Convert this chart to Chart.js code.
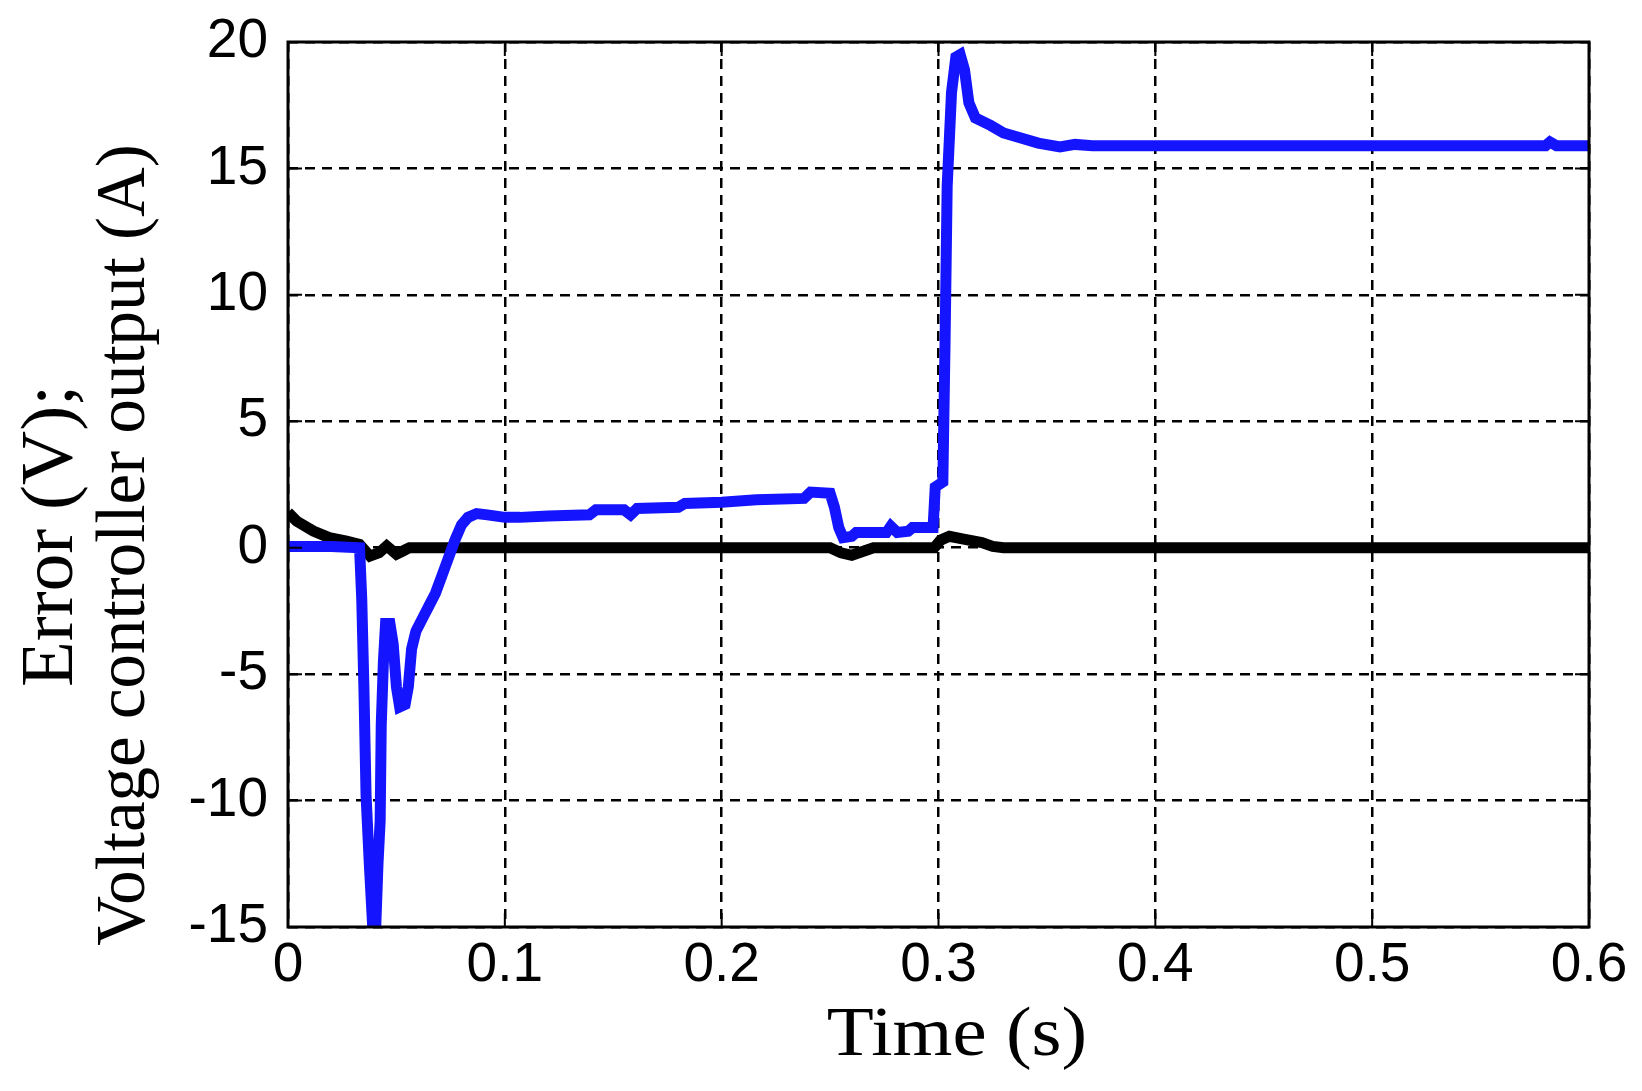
<!DOCTYPE html>
<html>
<head>
<meta charset="utf-8">
<script src="https://cdn.jsdelivr.net/npm/chart.js@4.4.1/dist/chart.umd.min.js"></script>
<style>
    html, body { margin: 0; padding: 0; background: #fff; }
    #wrap { width: 1642px; height: 1091px; position: relative; }
</style>
</head>
<body>
<div id="wrap"><canvas id="errChart"></canvas></div>
<script>
// values
const blueTime = [0, 0.02, 0.033, 0.034, 0.035, 0.036, 0.0375, 0.039, 0.0405, 0.0415, 0.0425, 0.043, 0.044, 0.045,
    0.047, 0.0485, 0.05, 0.0515, 0.054, 0.0555, 0.057, 0.059, 0.062, 0.065, 0.068, 0.071, 0.074, 0.077, 0.08,
    0.083, 0.087, 0.092, 0.1, 0.107, 0.12, 0.139, 0.142, 0.155, 0.158, 0.161, 0.18, 0.183, 0.2, 0.216, 0.238,
    0.241, 0.25, 0.252, 0.254, 0.256, 0.26, 0.262, 0.276, 0.278, 0.281, 0.286, 0.288, 0.2975, 0.2985, 0.302,
    0.303, 0.304, 0.306, 0.308, 0.31, 0.312, 0.314, 0.317, 0.324, 0.33, 0.338, 0.346, 0.356, 0.363, 0.371,
    0.38, 0.58, 0.582, 0.585, 0.6];
const blueValues = [0.05, 0.05, 0.0, -2.0, -5.5, -9.8, -12.5, -14.9, -14.9, -12.5, -10.8, -7.0, -4.5, -3.0,
    -3.0, -3.8, -5.5, -6.3, -6.2, -5.5, -4.0, -3.3, -2.8, -2.3, -1.8, -1.1, -0.4, 0.3, 0.9,
    1.2, 1.35, 1.3, 1.2, 1.2, 1.25, 1.3, 1.5, 1.5, 1.3, 1.55, 1.6, 1.75, 1.8, 1.9, 1.95,
    2.2, 2.15, 1.6, 0.8, 0.4, 0.45, 0.6, 0.6, 0.85, 0.6, 0.65, 0.8, 0.8, 2.4, 2.6,
    8.0, 14.3, 18.0, 19.4, 19.5, 18.9, 17.6, 17.0, 16.7, 16.4, 16.2, 16.0, 15.85, 15.95, 15.9,
    15.9, 15.9, 16.05, 15.9, 15.9];

const blackTime = [0, 0.004, 0.0117, 0.019, 0.027, 0.033, 0.0378, 0.042, 0.0455, 0.05, 0.053, 0.056,
    0.25, 0.255, 0.26, 0.265, 0.27, 0.298, 0.301, 0.305, 0.311, 0.32, 0.325, 0.33, 0.6];
const blackValues = [1.4, 1.05, 0.66, 0.4, 0.26, 0.13, -0.33, -0.2, 0.07, -0.26, -0.13, 0,
    0, -0.2, -0.3, -0.15, 0, 0, 0.3, 0.45, 0.35, 0.2, 0.05, 0, 0];

const xTicks = [0, 0.1, 0.2, 0.3, 0.4, 0.5, 0.6];
const xTickLabels = ['0', '0.1', '0.2', '0.3', '0.4', '0.5', '0.6'];
const yTicks = [-15, -10, -5, 0, 5, 10, 15, 20];
const yTickLabels = ['-15', '-10', '-5', '0', '5', '10', '15', '20'];

const xTitle = 'Time (s)';
const yTitleLines = ['Error (V);', 'Voltage controller output (A)'];

const tickFont = { family: '"Liberation Sans", Arial, sans-serif', size: 55 };
const serif = '"Liberation Serif", "Times New Roman", serif';

// box, inward ticks and axis titles, drawn the matlab way
const framePlugin = {
    id: 'frame',
    afterDraw(chart) {
        const ctx = chart.ctx;
        const a = chart.chartArea;
        const xs = chart.scales.x, ys = chart.scales.y;
        const tl = 14;
        ctx.save();
        ctx.strokeStyle = '#000';
        ctx.lineWidth = 2;
        ctx.beginPath();
        xTicks.forEach(v => {
            const px = xs.getPixelForValue(v);
            ctx.moveTo(px, a.bottom); ctx.lineTo(px, a.bottom - tl);
            ctx.moveTo(px, a.top); ctx.lineTo(px, a.top + tl);
        });
        yTicks.forEach(v => {
            const py = ys.getPixelForValue(v);
            ctx.moveTo(a.left, py); ctx.lineTo(a.left + tl, py);
            ctx.moveTo(a.right, py); ctx.lineTo(a.right - tl, py);
        });
        ctx.stroke();
        ctx.lineWidth = 3;
        ctx.strokeRect(a.left, a.top, a.right - a.left, a.bottom - a.top);

        ctx.fillStyle = '#000';
        ctx.textAlign = 'center';
        ctx.textBaseline = 'middle';
        ctx.save();
        ctx.translate(957, 1037);
        ctx.scale(1.1, 1);
        ctx.font = '70px ' + serif;
        ctx.fillText(xTitle, 0, 0);
        ctx.restore();

        ctx.translate(52, 536);
        ctx.rotate(-Math.PI / 2);
        ctx.font = '75px ' + serif;
        ctx.fillText(yTitleLines[0], 0, 0);
        ctx.font = '69px ' + serif;
        ctx.fillText(yTitleLines[1], -9, 74);
        ctx.restore();
    }
};

const ctx = document.getElementById('errChart').getContext('2d');
new Chart(ctx, {
    type: 'line',
    data: {
        datasets: [{
            label: 'Voltage controller output',
            data: blueTime.map((t, i) => ({ x: t, y: blueValues[i] })),
            borderColor: '#1414ff',
            borderWidth: 11,
            pointRadius: 0,
            tension: 0,
            order: 0
        }, {
            label: 'Error',
            data: blackTime.map((t, i) => ({ x: t, y: blackValues[i] })),
            borderColor: '#000000',
            borderWidth: 11,
            pointRadius: 0,
            tension: 0,
            order: 1
        }]
    },
    options: {
        responsive: true,
        maintainAspectRatio: false,
        animation: false,
        layout: { padding: { top: 42, right: 53, left: 0, bottom: 0 } },
        plugins: {
            legend: { display: false },
            tooltip: { enabled: false }
        },
        scales: {
            x: {
                type: 'linear',
                min: 0,
                max: 0.6,
                afterBuildTicks: scale => { scale.ticks = xTicks.map(v => ({ value: v })); },
                afterFit: scale => {
                    scale.height = 164;
                    scale.paddingLeft = 0;
                    scale.paddingRight = 0;
                },
                ticks: {
                    color: '#000',
                    font: tickFont,
                    padding: 6,
                    maxRotation: 0,
                    autoSkip: false,
                    callback: (v, i) => xTickLabels[i]
                },
                grid: { color: '#000', lineWidth: 2.5, drawTicks: false },
                border: { display: false, dash: [10, 7] }
            },
            y: {
                type: 'linear',
                min: -15,
                max: 20,
                afterBuildTicks: scale => { scale.ticks = yTicks.map(v => ({ value: v })); },
                afterFit: scale => {
                    scale.width = 288;
                    scale.paddingTop = 0;
                    scale.paddingBottom = 0;
                },
                ticks: {
                    color: '#000',
                    font: tickFont,
                    padding: 20,
                    autoSkip: false,
                    callback: (v, i) => yTickLabels[i]
                },
                grid: { color: '#000', lineWidth: 2.5, drawTicks: false },
                border: { display: false, dash: [10, 7] }
            }
        }
    },
    plugins: [framePlugin]
});
</script>
</body>
</html>
